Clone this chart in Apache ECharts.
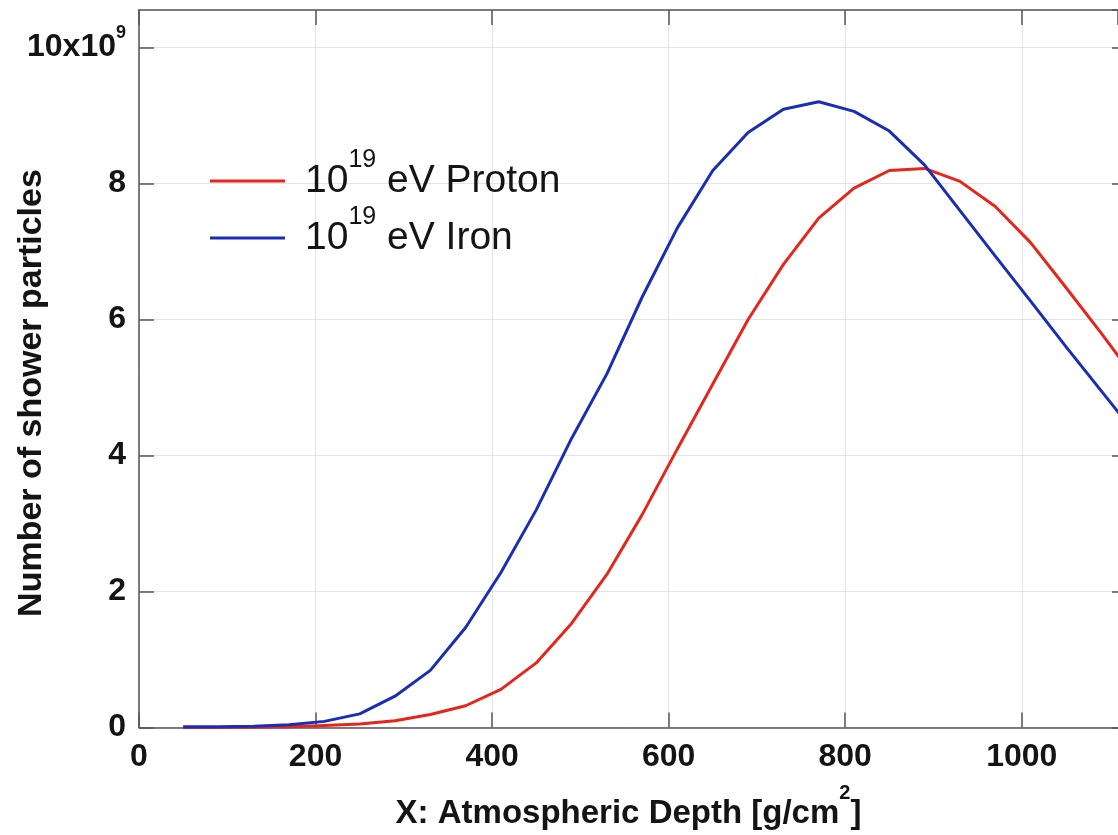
<!DOCTYPE html>
<html><head><meta charset="utf-8">
<script src="https://cdn.jsdelivr.net/npm/echarts@6/dist/echarts.min.js"></script>
<style>html,body{margin:0;padding:0;background:#fff}#c{width:1118px;height:835px}</style>
</head><body><div id="c"></div>
<script>
// Atmospheric depth X [g/cm^2]
const depth = [50, 90, 130, 170, 210, 250, 290, 330, 370, 410, 450, 490, 530, 570,
               610, 650, 690, 730, 770, 810, 850, 890, 930, 970, 1010, 1050, 1090, 1130];
// Number of shower particles, in units of 10^9
const protonE9 = [0.0, 0.0, 0.005, 0.01, 0.03, 0.05, 0.1, 0.19, 0.32, 0.56, 0.95, 1.53, 2.25, 3.13,
                  4.1, 5.05, 6.0, 6.81, 7.49, 7.93, 8.19, 8.22, 8.03, 7.66, 7.13, 6.47, 5.8, 5.1];
const ironE9 = [0.01, 0.01, 0.02, 0.04, 0.09, 0.2, 0.46, 0.84, 1.47, 2.28, 3.2, 4.25, 5.2, 6.33,
                7.35, 8.19, 8.75, 9.09, 9.2, 9.06, 8.77, 8.27, 7.6, 6.93, 6.27, 5.6, 4.95, 4.3];
const xTicks = [0, 200, 400, 600, 800, 1000];
const yTicks = [0, 2, 4, 6, 8, 10];
const seriesNames = ['Proton', 'Iron'];

const FONT = '"Liberation Sans", Arial, sans-serif';
const TXT = '#141414';
const AX = '#555';

const chart = echarts.init(document.getElementById('c'), null, {renderer: 'canvas'});

function pairs(xs, ys) { return xs.map((x, i) => [x, ys[i]]); }

const legendRich = {
  n: {fontSize: 39, lineHeight: 66, fontFamily: FONT, color: TXT},
  s: {fontSize: 25, lineHeight: 24, fontFamily: FONT, color: TXT, verticalAlign: 'top'}
};
function legendFmt(name) { return '{n|10}{s|19}{n| eV ' + name + '}'; }
function mkLegend(name, top) {
  return {
    data: [name], left: 210, top: top, padding: 0, orient: 'vertical',
    icon: 'rect', itemWidth: 75, itemHeight: 3, selectedMode: false,
    formatter: legendFmt,
    textStyle: {padding: [0, 0, 0, 15], rich: legendRich}
  };
}

const tickCommon = {show: true, inside: true, length: 15, lineStyle: {color: AX, width: 1.5}};

const option = {
  animation: false,
  backgroundColor: '#fff',
  grid: {left: 139, right: 0, top: 10, bottom: 100, containLabel: false},
  legend: [mkLegend(seriesNames[0], 148), mkLegend(seriesNames[1], 205)],
  xAxis: [{
    type: 'value', min: 0, max: 1109, interval: 200, position: 'bottom',
    axisLine: {show: true, onZero: false, lineStyle: {color: AX, width: 1.5}},
    axisTick: tickCommon,
    splitLine: {show: true, lineStyle: {color: '#e4e4e4', width: 1}},
    axisLabel: {
      margin: 14, showMaxLabel: false,
      fontSize: 32, fontWeight: 'bold', fontFamily: FONT, color: TXT,
      formatter: v => xTicks.includes(v) ? String(v) : ''
    },
    name: '{t|X: Atmospheric Depth [g/cm}{s|2}{t|]}',
    nameLocation: 'middle', nameGap: 56,
    nameTextStyle: {
      rich: {
        t: {fontSize: 33, fontWeight: 'bold', fontFamily: FONT, color: TXT, lineHeight: 60},
        s: {fontSize: 20, fontWeight: 'bold', fontFamily: FONT, color: TXT, lineHeight: 20, verticalAlign: 'top'}
      }
    }
  }, {
    type: 'value', min: 0, max: 1109, interval: 200, position: 'top',
    axisLine: {show: true, onZero: false, lineStyle: {color: AX, width: 1.5}},
    axisTick: tickCommon, axisLabel: {show: false}, splitLine: {show: false}
  }],
  yAxis: [{
    type: 'value', min: 0, max: 10.55, interval: 2, position: 'left',
    axisLine: {show: true, onZero: false, lineStyle: {color: AX, width: 1.5}},
    axisTick: tickCommon,
    splitLine: {show: true, lineStyle: {color: '#e4e4e4', width: 1}},
    axisLabel: {
      margin: 13, showMaxLabel: false,
      formatter: v => v === 10 ? '{a|10x10}{s|9}' : (yTicks.includes(v) ? '{a|' + v + '}' : ''),
      rich: {
        a: {fontSize: 32, fontWeight: 'bold', fontFamily: FONT, color: TXT, lineHeight: 46},
        s: {fontSize: 18, fontWeight: 'bold', fontFamily: FONT, color: TXT, lineHeight: 18, verticalAlign: 'top'}
      }
    }
  }, {
    type: 'value', min: 0, max: 10.55, interval: 2, position: 'right',
    axisLine: {show: false, onZero: false},
    axisTick: {show: true, inside: true, length: 6, lineStyle: {color: AX, width: 1.5}},
    axisLabel: {show: false}, splitLine: {show: false}
  }],
  graphic: [{
    type: 'text', x: 32, y: 393, rotation: Math.PI / 2,
    style: {
      text: 'Number of shower particles', fill: TXT,
      font: 'bold 34px ' + FONT, textAlign: 'center', textVerticalAlign: 'middle'
    }
  }],
  series: [{
    name: seriesNames[0], type: 'line', data: pairs(depth, protonE9),
    showSymbol: false, symbol: 'none', smooth: false, clip: true,
    lineStyle: {color: '#e5261d', width: 3}, itemStyle: {color: '#e5261d'}
  }, {
    name: seriesNames[1], type: 'line', data: pairs(depth, ironE9),
    showSymbol: false, symbol: 'none', smooth: false, clip: true,
    lineStyle: {color: '#1a2db5', width: 3}, itemStyle: {color: '#1a2db5'}
  }]
};
chart.setOption(option);
</script>
</body></html>
